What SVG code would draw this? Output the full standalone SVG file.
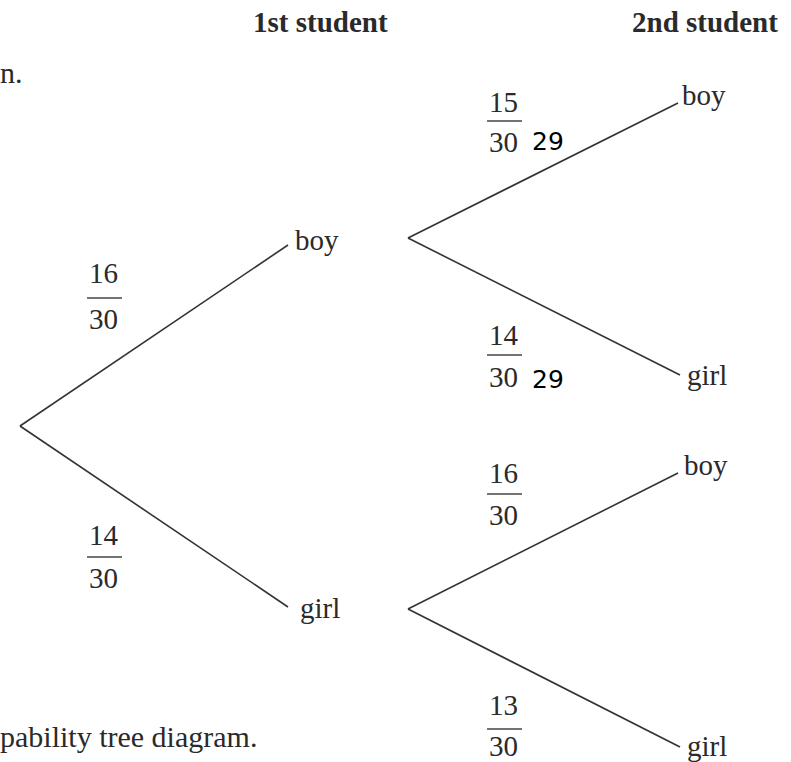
<svg xmlns="http://www.w3.org/2000/svg" width="791" height="762" viewBox="0 0 791 762">
<style>
text{font-family:"Liberation Serif","Times New Roman",serif;font-size:29px;fill:#2a2a2a}
.h{font-weight:bold}
.hw{font-family:"DejaVu Sans","Liberation Sans",sans-serif;font-size:25px;fill:#000}
.c{stroke:#333;stroke-width:1.6;fill:none}
.bar{stroke:#444;stroke-width:1.5}
</style>
<rect width="791" height="762" fill="#fff"/>
<g id="headers">
<text class="h" x="253" y="32">1st student</text>
<text class="h" x="632" y="32">2nd student</text>
</g>
<g id="context">
<text x="0" y="83" style="font-size:30px">n.</text>
<text x="0" y="747" style="font-size:30px">pability tree diagram.</text>
</g>
<g id="connectors">
<line class="c" x1="20" y1="426" x2="288" y2="245"/>
<line class="c" x1="20" y1="426" x2="288" y2="607"/>
<line class="c" x1="408" y1="238" x2="678" y2="103"/>
<line class="c" x1="408" y1="238" x2="680" y2="375"/>
<line class="c" x1="408" y1="609" x2="678" y2="473"/>
<line class="c" x1="408" y1="609" x2="680" y2="747"/>
</g>
<g id="node-boy1"><text x="295" y="250">boy</text></g>
<g id="node-girl1"><text x="300" y="618">girl</text></g>
<g id="node-boy-boy"><text x="682" y="105">boy</text></g>
<g id="node-boy-girl"><text x="687" y="385">girl</text></g>
<g id="node-girl-boy"><text x="684" y="475">boy</text></g>
<g id="node-girl-girl"><text x="687" y="756">girl</text></g>
<g id="frac-16-30">
<text x="89" y="283">16</text><line class="bar" x1="87" y1="298" x2="122" y2="298"/><text x="89" y="329">30</text>
</g>
<g id="frac-14-30">
<text x="89" y="545">14</text><line class="bar" x1="87" y1="557" x2="122" y2="557"/><text x="89" y="588">30</text>
</g>
<g id="frac-15-30">
<text x="489" y="112">15</text><line class="bar" x1="487" y1="121" x2="522" y2="121"/><text x="489" y="152">30</text>
<text class="hw" x="532" y="150">29</text>
</g>
<g id="frac-14-30b">
<text x="489" y="345">14</text><line class="bar" x1="487" y1="355" x2="522" y2="355"/><text x="489" y="387">30</text>
<text class="hw" x="532" y="388">29</text>
</g>
<g id="frac-16-30b">
<text x="489" y="483">16</text><line class="bar" x1="487" y1="494" x2="522" y2="494"/><text x="489" y="525">30</text>
</g>
<g id="frac-13-30">
<text x="489" y="715">13</text><line class="bar" x1="487" y1="729" x2="522" y2="729"/><text x="489" y="756">30</text>
</g>
</svg>
